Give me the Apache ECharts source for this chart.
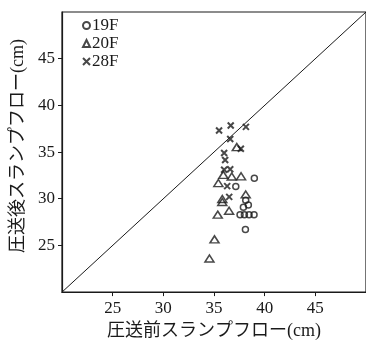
<!DOCTYPE html>
<html>
<head>
<meta charset="utf-8">
<script src="https://cdn.jsdelivr.net/npm/echarts@6/dist/echarts.min.js"></script>
<style>
html,body{margin:0;padding:0;background:#fff;}
#chart{width:366px;height:345px;}
</style>
</head>
<body>
<div id="chart"></div>
<script>
// Series names
var seriesNames = ['19F', '20F', '28F'];
// [before, after] slump flow (cm)
var data19F = [[38.98,32.2],[37.15,31.3],[38.13,29.83],[38.39,29.34],[37.9,29.1],[37.57,28.29],[38.0,28.29],[38.46,28.29],[38.95,28.29],[38.1,26.7]];
var data20F = [[37.25,35.53],[35.92,32.56],[36.75,32.38],[37.67,32.4],[35.43,31.68],[35.82,29.97],[35.82,29.65],[38.13,30.46],[36.49,28.71],[35.37,28.3],[35.05,25.65],[34.55,23.6]];
var data28F = [[35.5,37.3],[36.65,37.85],[38.15,37.7],[36.6,36.4],[37.65,35.35],[36.0,34.9],[36.1,34.15],[36.0,33.1],[36.6,33.15],[36.3,31.35],[36.5,30.2]];
// equality line y = x
var lineData = [[20,20],[50,50]];
var tickValues = [25, 30, 35, 40, 45];
var xTitle = '圧送前スランプフロー(cm)';
var yTitle = '圧送後スランプフロー(cm)';

var serif = '"Liberation Serif","Noto Sans CJK JP",serif';
var ink = '#1a1a1a';
var hollow = {color: 'rgba(0,0,0,0)', borderColor: ink, borderWidth: 1.5};

var chart = echarts.init(document.getElementById('chart'), null, {renderer: 'canvas'});
function axisCommon(name, gap) {
  return {
    type: 'value', min: 20, max: 50, interval: 5,
    name: name, nameLocation: 'middle', nameGap: gap,
    nameTextStyle: {fontFamily: serif, fontSize: 18, color: ink},
    axisLine: {show: true, onZero: false, lineStyle: {color: ink, width: 1.2}},
    axisTick: {show: true, inside: false, length: 4, customValues: tickValues, lineStyle: {color: ink, width: 1}},
    axisLabel: {customValues: tickValues, fontFamily: serif, fontSize: 17, color: ink},
    splitLine: {show: false}
  };
}
var xAxis = axisCommon(xTitle, 26);
xAxis.axisLabel.margin = 8;
var yAxis = axisCommon(yTitle, 30);
yAxis.axisLabel.margin = 7;
yAxis.nameTextStyle.padding = [0, 0, 0, 12];

chart.setOption({
  animation: false,
  backgroundColor: '#fff',
  grid: {left: 62, right: -2, top: 12, bottom: 47, show: true, borderColor: ink, borderWidth: 1.2, backgroundColor: 'transparent'},
  xAxis: xAxis,
  yAxis: yAxis,
  legend: {
    data: seriesNames, orient: 'vertical', left: 77, top: 12,
    itemWidth: 7, itemHeight: 7, itemGap: 1,
    textStyle: {fontFamily: serif, fontSize: 17, color: ink, padding: [0,0,0,-3]}
  },
  series: [
    {name: 'line', type: 'line', data: lineData, symbol: 'none', silent: true,
     lineStyle: {color: ink, width: 1}},
    {name: seriesNames[0], type: 'scatter', data: data19F, symbol: 'circle', symbolSize: 6,
     itemStyle: hollow},
    {name: seriesNames[1], type: 'scatter', data: data20F, symbol: 'triangle', symbolSize: [9, 7],
     itemStyle: hollow},
    {name: seriesNames[2], type: 'scatter', data: data28F, symbol: 'path://M0,0L10,10M10,0L0,10', symbolSize: 6,
     itemStyle: {color: 'rgba(0,0,0,0)', borderColor: ink, borderWidth: 2}}
  ]
});
</script>
</body>
</html>
